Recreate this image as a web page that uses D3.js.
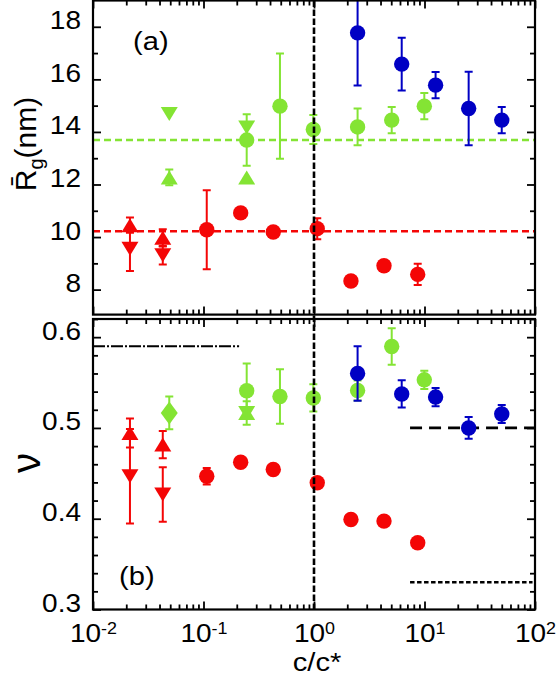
<!DOCTYPE html>
<html><head><meta charset="utf-8">
<script src="https://cdn.jsdelivr.net/npm/d3@7/dist/d3.min.js"></script>
<style>
body{margin:0;background:#fff}
text{font-family:"Liberation Sans",Arial,sans-serif;fill:#000}
</style>
</head><body>
<svg id="chart" width="558" height="681"></svg>
<script>
// ---------------- DATA ----------------
// panel (a): Rg (nm) vs c/c*
const redUpC = [0.0216, 0.0428];
const redUpRg = [10.45, 9.97];
const redUpRgErr = [0.29, 0.33];
const redDownC = [0.0216, 0.0428];
const redDownRg = [9.56, 9.31];
const redDownRgErr = [0.85, 0.35];
const redCircC = [0.107, 0.217, 0.428, 1.07, 2.16, 4.3, 8.68];
const redCircRg = [10.28, 10.92, 10.19, 10.32, 8.33, 8.91, 8.58];
const redCircRgErr = [1.5, 0, 0.12, 0.4, 0, 0.18, 0.4];
const greenUpC = [0.049, 0.246];
const greenUpRg = [12.27, 12.27];
const greenUpRgErr = [0.3, 0];
const greenDownC = [0.049, 0.246];
const greenDownRg = [14.68, 14.17];
const greenDownRgErr = [0, 0];
const greenCircC = [0.246, 0.492, 0.986, 2.48, 5.05, 9.96];
const greenCircRg = [13.69, 14.98, 14.09, 14.19, 14.45, 14.98];
const greenCircRgErr = [0.98, 2.0, 0.55, 0.7, 0.5, 0.5];
const blueCircC = [2.48, 6.22, 12.6, 25.1, 50.0];
const blueCircRg = [17.77, 16.58, 15.78, 14.89, 14.45];
const blueCircRgErr = [2.0, 1.0, 0.5, 1.4, 0.5];
const redRgLine = 10.22;
const greenRgLine = 13.69;

// panel (b): nu vs c/c*
const redUpNu = [0.4945, 0.4817];
const redUpNuErr = [0.016, 0.015];
const redDownNu = [0.4468, 0.4267];
const redDownNuErr = [0.052, 0.03];
const redCircNu = [0.4468, 0.4622, 0.4542, 0.4396, 0.3992, 0.3974, 0.3736];
const redCircNuErr = [0.009, 0, 0, 0, 0, 0, 0];
const greenDiamC = [0.049];
const greenDiamNu = [0.5165];
const greenDiamNuErr = [0.018];
const greenStarC = [0.246];
const greenStarNu = [0.5165];
const greenStarNuErr = [0.013];
const greenCircNu = [0.541, 0.5347, 0.533, 0.5413, 0.5897, 0.553];
const greenCircNuErr = [0.03, 0.03, 0.015, 0.011, 0.02, 0.01];
const blueCircNu = [0.560, 0.5374, 0.534, 0.500, 0.5154];
const blueCircNuErr = [0.03, 0.015, 0.01, 0.012, 0.01];
// reference lines in (b): [c start, c end, nu]
const nuFloryLine = [0.01, 0.21, 0.59];
const nuThetaSemi = [7.4, 100, 0.5];
const nuMeltLine = [7.4, 95, 0.33];
const cStar = 1;

// ticks
const xTickMajor = [0.01, 0.1, 1, 10, 100];
const xTickExp = ["-2", "-1", "0", "1", "2"];
const rgTickMajor = [8, 10, 12, 14, 16, 18];
const rgTickMinor = [9, 11, 13, 15, 17];
const nuTickMajor = [0.3, 0.4, 0.5, 0.6];
const nuTickLabels = ["0.3", "0.4", "0.5", "0.6"];
const nuTickMinor = [0.32, 0.34, 0.36, 0.38, 0.42, 0.44, 0.46, 0.48, 0.52, 0.54, 0.56, 0.58, 0.62];

// ---------------- STYLE ----------------
const RED = "#f40606", GREEN = "#84e434", BLUE = "#0000c4";
const SX = 1.12; // horizontal stretch of the original lettering
const svg = d3.select("#chart");
const L = 93, R = 535;
const topA = 0.5, botA = 314.6, topB = 319, botB = 609.5;

const x = d3.scaleLog().domain([0.01, 100]).range([L, R]);
const yA = d3.scaleLinear().domain([7.05, 19.0]).range([botA, topA]);
const yB = d3.scaleLinear().domain([0.3, 0.62]).range([botB, topB]);

svg.append("clipPath").attr("id", "ca").append("rect")
  .attr("x", L).attr("y", topA).attr("width", R - L).attr("height", botA - topA);
svg.append("clipPath").attr("id", "cb").append("rect")
  .attr("x", L).attr("y", topB).attr("width", R - L).attr("height", botB - topB);

const gA = svg.append("g").attr("clip-path", "url(#ca)");
const gB = svg.append("g").attr("clip-path", "url(#cb)");

// horizontal reference lines
function hline(g, y, c0, c1, v, color, width, dash) {
  g.append("line").attr("x1", x(c0)).attr("x2", x(c1)).attr("y1", y(v)).attr("y2", y(v))
    .attr("stroke", color).attr("stroke-width", width).attr("stroke-dasharray", dash);
}
hline(gA, yA, 0.01, 100, redRgLine, RED, 2.6, "7,4");
hline(gA, yA, 0.01, 100, greenRgLine, GREEN, 2.6, "7,4");
hline(gB, yB, nuFloryLine[0], nuFloryLine[1], nuFloryLine[2], "#000", 2.2, "12,2,2,2");
hline(gB, yB, nuThetaSemi[0], nuThetaSemi[1], nuThetaSemi[2], "#000", 2.8, "12,7");
hline(gB, yB, nuMeltLine[0], nuMeltLine[1], nuMeltLine[2], "#000", 2.4, "4.5,2.5");

// marker shapes
const shapes = {
  up: "M0,-7L8.5,7L-8.5,7Z",
  down: "M0,7L8.5,-7L-8.5,-7Z",
  diamond: "M0,-11.5L8.5,0L0,11.5L-8.5,0Z"
};
function series(g, y, cs, vs, errs, shape, color) {
  const data = cs.map((c, i) => ({ c, v: vs[i], e: errs[i] }));
  const eb = g.append("g").attr("stroke", color).attr("stroke-width", 2);
  data.filter(d => d.e > 0).forEach(d => {
    const px = x(d.c), y0 = y(d.v - d.e), y1 = y(d.v + d.e);
    eb.append("line").attr("x1", px).attr("x2", px).attr("y1", y0).attr("y2", y1);
    eb.append("line").attr("x1", px - 4).attr("x2", px + 4).attr("y1", y0).attr("y2", y0);
    eb.append("line").attr("x1", px - 4).attr("x2", px + 4).attr("y1", y1).attr("y2", y1);
  });
  const mk = g.append("g").attr("fill", color);
  data.forEach(d => {
    if (shape === "circle") {
      mk.append("circle").attr("cx", x(d.c)).attr("cy", y(d.v)).attr("r", 7.7);
    } else {
      mk.append("path").attr("d", shapes[shape])
        .attr("transform", `translate(${x(d.c)},${y(d.v)})`);
    }
  });
}
// panel (a)
series(gA, yA, redUpC, redUpRg, redUpRgErr, "up", RED);
series(gA, yA, redDownC, redDownRg, redDownRgErr, "down", RED);
series(gA, yA, redCircC, redCircRg, redCircRgErr, "circle", RED);
series(gA, yA, greenUpC, greenUpRg, greenUpRgErr, "up", GREEN);
series(gA, yA, greenDownC, greenDownRg, greenDownRgErr, "down", GREEN);
series(gA, yA, greenCircC, greenCircRg, greenCircRgErr, "circle", GREEN);
series(gA, yA, blueCircC, blueCircRg, blueCircRgErr, "circle", BLUE);
// panel (b)
series(gB, yB, redUpC, redUpNu, redUpNuErr, "up", RED);
series(gB, yB, redDownC, redDownNu, redDownNuErr, "down", RED);
series(gB, yB, redCircC, redCircNu, redCircNuErr, "circle", RED);
series(gB, yB, greenDiamC, greenDiamNu, greenDiamNuErr, "diamond", GREEN);
series(gB, yB, greenStarC, greenStarNu, greenStarNuErr, "up", GREEN);
series(gB, yB, greenStarC, greenStarNu, [0], "down", GREEN);
series(gB, yB, greenCircC, greenCircNu, greenCircNuErr, "circle", GREEN);
series(gB, yB, blueCircC, blueCircNu, blueCircNuErr, "circle", BLUE);

// vertical c* line
svg.append("line").attr("x1", x(cStar)).attr("x2", x(cStar))
  .attr("y1", topA).attr("y2", botB)
  .attr("stroke", "#000").attr("stroke-width", 2.6).attr("stroke-dasharray", "6.5,2.5");

// ---------------- AXES ----------------
const xMinor = [];
[0.01, 0.1, 1, 10].forEach(d => { for (let k = 2; k < 10; k++) xMinor.push(k * d); });

function styleAxis(g) {
  g.select(".domain").remove();
  g.selectAll(".tick line").attr("stroke", "#000").attr("stroke-width", 1.8);
  return g;
}
function xAxes(yt, yb, labels) {
  styleAxis(svg.append("g").attr("transform", `translate(0,${yt})`)
    .call(d3.axisTop(x).tickValues(xTickMajor).tickSize(-8).tickFormat("")));
  styleAxis(svg.append("g").attr("transform", `translate(0,${yt})`)
    .call(d3.axisTop(x).tickValues(xMinor).tickSize(-5).tickFormat("")));
  const gb = styleAxis(svg.append("g").attr("transform", `translate(0,${yb})`)
    .call(d3.axisBottom(x).tickValues(xTickMajor).tickSize(-8).tickPadding(15)
      .tickFormat(labels ? (d, i) => "10" : "")));
  styleAxis(svg.append("g").attr("transform", `translate(0,${yb})`)
    .call(d3.axisBottom(x).tickValues(xMinor).tickSize(-5).tickFormat("")));
  if (labels) {
    gb.selectAll(".tick text").each(function (d, i) {
      const t = d3.select(this);
      t.text(null).attr("font-size", 25).attr("font-family", null).attr("dy", "0.71em")
        .attr("transform", `scale(${SX},1)`);
      t.append("tspan").text("10");
      t.append("tspan").attr("dy", "-0.5em").attr("font-size", 16).text(xTickExp[i]);
    });
  }
}
function yAxes(y, major, minor, fmt) {
  const gl = styleAxis(svg.append("g").attr("transform", `translate(${L},0)`)
    .call(d3.axisLeft(y).tickValues(major).tickSize(-8).tickPadding(12).tickFormat(fmt)));
  gl.selectAll(".tick text").attr("font-size", 25).attr("font-family", null)
    .attr("x", -12 / SX).attr("y", -6).attr("transform", `scale(${SX},1)`);
  styleAxis(svg.append("g").attr("transform", `translate(${L},0)`)
    .call(d3.axisLeft(y).tickValues(minor).tickSize(-5).tickFormat("")));
  styleAxis(svg.append("g").attr("transform", `translate(${R},0)`)
    .call(d3.axisRight(y).tickValues(major).tickSize(-8).tickFormat("")));
  styleAxis(svg.append("g").attr("transform", `translate(${R},0)`)
    .call(d3.axisRight(y).tickValues(minor).tickSize(-5).tickFormat("")));
}
xAxes(topA, botA, false);
xAxes(topB, botB, true);
yAxes(yA, rgTickMajor, rgTickMinor, d => String(d));
yAxes(yB, nuTickMajor, nuTickMinor, (d, i) => nuTickLabels[i]);

// frames
[[topA, botA], [topB, botB]].forEach(([t, b]) => {
  svg.append("rect").attr("x", L).attr("y", t).attr("width", R - L).attr("height", b - t)
    .attr("fill", "none").attr("stroke", "#000").attr("stroke-width", 2.2);
});

// ---------------- TEXT ----------------
svg.append("text").attr("transform", `translate(133,50) scale(${SX},1)`).attr("font-size", 26).text("(a)");
svg.append("text").attr("transform", `translate(119,585) scale(${SX},1)`).attr("font-size", 26).text("(b)");
svg.append("text").attr("transform", `translate(${x(cStar) + 3},671) scale(${SX},1)`)
  .attr("text-anchor", "middle").attr("font-size", 26).text("c/c*");

const yl = svg.append("text").attr("transform", "translate(36,144) rotate(-90)")
  .attr("text-anchor", "middle").attr("font-size", 30);
yl.append("tspan").text("R\u0304");
yl.append("tspan").attr("font-size", 20).attr("dy", 7).text("g");
yl.append("tspan").attr("dy", -7).text("(nm)");

svg.append("text").attr("transform", "translate(40,463) rotate(-90)")
  .attr("text-anchor", "middle").attr("font-size", 40).text("\u03bd");
</script>
</body></html>
